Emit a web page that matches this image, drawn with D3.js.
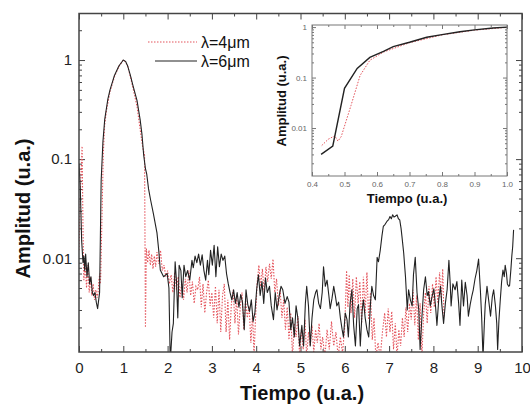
<!DOCTYPE html>
<html>
<head>
<meta charset="utf-8">
<script src="https://cdn.jsdelivr.net/npm/d3@7/dist/d3.min.js"></script>
<style>
  body { margin: 0; background: #fff; }
  svg { font-family: Arial, "Liberation Sans", sans-serif; }
  .axis line { stroke: #444; }
  .axis text { fill: #222; }
  .inset .axis line { stroke: #777; }
  .inset .axis text { fill: #666; }
</style>
</head>
<body>
<svg id="chart" width="530" height="405"></svg>
<script>
// ---- data ----
// lambda = 6um, black solid
const tiempo6 = [
  0, 0.03, 0.06, 0.09, 0.11, 0.13, 0.15, 0.18, 0.21, 0.24,
  0.27, 0.3, 0.33, 0.36, 0.39, 0.42, 0.465, 0.5, 0.54, 0.58,
  0.65, 0.7, 0.8, 0.9, 1.0, 1.05, 1.1, 1.16, 1.22, 1.31,
  1.38, 1.42, 1.46, 1.5, 1.53, 1.57, 1.62, 1.68, 1.76, 1.8,
  1.835, 1.91, 1.99, 2.03, 2.06, 2.1, 2.13, 2.17, 2.2, 2.23,
  2.26, 2.3, 2.33, 2.37, 2.41, 2.45, 2.5, 2.55, 2.58, 2.62,
  2.66, 2.7, 2.74, 2.78, 2.82, 2.86, 2.9, 2.93, 2.97, 3.01,
  3.05, 3.09, 3.13, 3.17, 3.21, 3.25, 3.29, 3.33, 3.37, 3.41,
  3.45, 3.49, 3.53, 3.57, 3.61, 3.65, 3.69, 3.73, 3.77, 3.81,
  3.85, 3.89, 3.93, 3.97, 4.01, 4.05, 4.09, 4.13, 4.17, 4.21,
  4.25, 4.3, 4.34, 4.39, 4.43, 4.47, 4.52, 4.56, 4.6, 4.65,
  4.7, 4.74, 4.78, 4.82, 4.86, 4.9, 4.94, 4.98, 5.03, 5.07,
  5.11, 5.14, 5.18, 5.22, 5.26, 5.3, 5.34, 5.37, 5.41, 5.45,
  5.49, 5.52, 5.56, 5.6, 5.64, 5.67, 5.71, 5.75, 5.79, 5.82,
  5.86, 5.9, 5.94, 5.97, 6.01, 6.05, 6.08, 6.12, 6.16, 6.2,
  6.24, 6.28, 6.31, 6.35, 6.39, 6.42, 6.46, 6.5, 6.54, 6.58,
  6.61, 6.65, 6.69, 6.73, 6.76, 6.8, 6.84, 6.87, 6.91, 6.95,
  6.99, 7.02, 7.05, 7.08, 7.11, 7.14, 7.18, 7.21, 7.24, 7.27,
  7.29, 7.33, 7.35, 7.37, 7.41, 7.44, 7.48, 7.52, 7.55, 7.59,
  7.63, 7.67, 7.7, 7.74, 7.78, 7.82, 7.86, 7.89, 7.93, 7.97,
  8.01, 8.05, 8.08, 8.12, 8.16, 8.19, 8.23, 8.27, 8.31, 8.35,
  8.38, 8.4, 8.44, 8.49, 8.53, 8.57, 8.6, 8.64, 8.68, 8.72,
  8.76, 8.79, 8.83, 8.87, 8.9, 8.94, 8.98, 9.02, 9.06, 9.09,
  9.12, 9.15, 9.17, 9.21, 9.25, 9.29, 9.33, 9.36, 9.4, 9.43,
  9.45, 9.48, 9.51, 9.54, 9.57, 9.6, 9.62, 9.65, 9.67, 9.7,
  9.72, 9.75, 9.77, 9.79, 9.81
];
const amp6 = [
  0.09, 0.05, 0.015, 0.009, 0.0105, 0.0075, 0.011, 0.0065, 0.009, 0.0055,
  0.0065, 0.0045, 0.0042, 0.0045, 0.0036, 0.0031, 0.0045, 0.06, 0.15, 0.25,
  0.4, 0.5, 0.7, 0.87, 1.0, 0.97, 0.87, 0.7, 0.55, 0.39,
  0.25, 0.18, 0.11, 0.08, 0.07, 0.05, 0.038, 0.028, 0.018, 0.012,
  0.0076, 0.0065, 0.007, 0.005, 0.0009, 0.0018, 0.0022, 0.0092, 0.006, 0.0025,
  0.0085, 0.0075, 0.004, 0.0085, 0.0065, 0.0075, 0.006, 0.0095, 0.008, 0.0105,
  0.009, 0.011, 0.0085, 0.0108, 0.0075, 0.006, 0.0095, 0.0068, 0.012, 0.0085,
  0.0135, 0.0065, 0.013, 0.0082, 0.011, 0.0095, 0.0105, 0.007, 0.0055, 0.0045,
  0.0038, 0.0048, 0.0035, 0.0045, 0.0032, 0.0043, 0.0036, 0.0019, 0.0048, 0.0034,
  0.0029, 0.0038, 0.0023, 0.0028, 0.0048, 0.0068, 0.0042, 0.0058, 0.0035, 0.0063,
  0.0045, 0.0052, 0.0033, 0.0024, 0.0045, 0.003, 0.0042, 0.0052, 0.0048, 0.0035,
  0.0041, 0.0036, 0.0019, 0.0025, 0.0016, 0.0033, 0.0025, 0.0013, 0.0021, 0.0013,
  0.0035, 0.0052, 0.0033, 0.0013, 0.0025, 0.0038, 0.0045, 0.0048, 0.0035, 0.0031,
  0.0045, 0.0082, 0.0052, 0.006, 0.0042, 0.0031, 0.0039, 0.0052, 0.0041, 0.0033,
  0.0036, 0.0025, 0.0019, 0.0016, 0.0028, 0.0024, 0.0016, 0.0035, 0.0048, 0.0021,
  0.0013, 0.0031, 0.0034, 0.0013, 0.0029, 0.0038, 0.0025, 0.0019, 0.0016, 0.0035,
  0.0052, 0.0042, 0.0038, 0.0102, 0.0092, 0.012, 0.017, 0.021, 0.022, 0.0235,
  0.0245, 0.0263, 0.025, 0.0274, 0.026, 0.0265, 0.0274, 0.025, 0.0244, 0.02,
  0.0166, 0.0112, 0.0085, 0.0065, 0.003, 0.0048, 0.0038, 0.0033, 0.0068, 0.0102,
  0.0045, 0.003, 0.0012, 0.0025, 0.0048, 0.0065, 0.0042, 0.0046, 0.0033, 0.0041,
  0.0049, 0.0032, 0.0021, 0.0038, 0.0052, 0.0034, 0.0022, 0.0035, 0.0048, 0.0095,
  0.0055, 0.0033, 0.0055, 0.0048, 0.0058, 0.0035, 0.0021, 0.006, 0.0033, 0.0057,
  0.0042, 0.0026, 0.0034, 0.0042, 0.0048, 0.0062, 0.0075, 0.0098, 0.0048, 0.0025,
  0.001, 0.0022, 0.0034, 0.0052, 0.0037, 0.0026, 0.0041, 0.0048, 0.0033, 0.0022,
  0.0012, 0.0024, 0.0038, 0.0058, 0.0076, 0.0065, 0.0085, 0.007, 0.0055, 0.0052,
  0.0053, 0.0078, 0.0105, 0.0131, 0.0193
];

// lambda = 4um, red dotted
const tiempo4 = [
  0, 0.04, 0.07, 0.09, 0.11, 0.14, 0.17, 0.2, 0.23, 0.26,
  0.29, 0.32, 0.35, 0.38, 0.41, 0.43, 0.45, 0.47, 0.48, 0.49,
  0.52, 0.548, 0.578, 0.62, 0.7, 0.8, 0.9, 1.0, 1.05, 1.1,
  1.16, 1.22, 1.31, 1.38, 1.44, 1.48, 1.5, 1.52, 1.55, 1.58,
  1.61, 1.64, 1.67, 1.7, 1.73, 1.76, 1.8, 1.84, 1.88, 1.92,
  1.96, 2.0, 2.04, 2.08, 2.12, 2.16, 2.2, 2.24, 2.28, 2.32,
  2.36, 2.4, 2.44, 2.48, 2.52, 2.56, 2.6, 2.64, 2.68, 2.72,
  2.76, 2.8, 2.84, 2.88, 2.92, 2.96, 3.0, 3.04, 3.08, 3.12,
  3.16, 3.2, 3.24, 3.28, 3.32, 3.36, 3.4, 3.44, 3.48, 3.52,
  3.56, 3.6, 3.64, 3.68, 3.72, 3.76, 3.8, 3.84, 3.88, 3.92,
  3.95, 3.98, 4.02, 4.06, 4.1, 4.14, 4.18, 4.22, 4.26, 4.3,
  4.34, 4.38, 4.42, 4.46, 4.5, 4.54, 4.58, 4.62, 4.66, 4.7,
  4.74, 4.78, 4.82, 4.86, 4.9, 4.94, 4.98, 5.02, 5.06, 5.1,
  5.14, 5.18, 5.22, 5.26, 5.3, 5.34, 5.38, 5.42, 5.46, 5.5,
  5.55, 5.6, 5.65, 5.7, 5.75, 5.8, 5.85, 5.9, 5.95, 6.0,
  6.04, 6.07, 6.1, 6.14, 6.18, 6.22, 6.26, 6.3, 6.34, 6.38,
  6.42, 6.46, 6.5, 6.54, 6.58, 6.62, 6.66, 6.7, 6.75, 6.8,
  6.85, 6.9, 6.94, 6.98, 7.02, 7.06, 7.1, 7.14, 7.18, 7.22,
  7.26, 7.3, 7.34, 7.38, 7.42, 7.46, 7.5, 7.54, 7.58, 7.62,
  7.66, 7.7, 7.74, 7.78, 7.82, 7.86, 7.9, 7.94, 7.98, 8.02,
  8.06, 8.1, 8.14, 8.18, 8.21, 8.24
];
const amp4 = [
  0.012, 0.06, 0.135, 0.02, 0.006, 0.009, 0.005, 0.0085, 0.0045, 0.0065,
  0.0042, 0.0055, 0.0038, 0.0048, 0.004, 0.0045, 0.006, 0.007, 0.0055, 0.0065,
  0.028, 0.11, 0.22, 0.31, 0.48, 0.68, 0.86, 1.0, 0.96, 0.86,
  0.68, 0.52, 0.34, 0.2, 0.13, 0.11, 0.002, 0.0125, 0.009, 0.012,
  0.0085, 0.011, 0.0078, 0.0105, 0.0082, 0.0115, 0.0088, 0.012, 0.0075, 0.0085,
  0.0065, 0.0075, 0.0055, 0.0068, 0.0045, 0.0072, 0.0048, 0.0065, 0.004, 0.0058,
  0.0038, 0.0062, 0.0045, 0.0075, 0.0042, 0.0058, 0.0035, 0.0052, 0.0048, 0.0065,
  0.0032, 0.0055, 0.0028, 0.0045, 0.006, 0.0033, 0.0045, 0.0025, 0.0052, 0.0022,
  0.0048, 0.0018, 0.0042, 0.0055, 0.0018, 0.0038, 0.0015, 0.0035, 0.0048, 0.0022,
  0.004, 0.0017, 0.0032, 0.0045, 0.0019, 0.0038, 0.0025, 0.0033, 0.0014, 0.0028,
  0.001, 0.0022, 0.0055, 0.0085, 0.0052, 0.0078, 0.0045, 0.0082, 0.0058, 0.0088,
  0.0062, 0.0098, 0.0045, 0.0062, 0.0033, 0.0048, 0.0025, 0.0038, 0.0019, 0.0032,
  0.0015, 0.0028, 0.001, 0.0022, 0.0016, 0.0026, 0.001, 0.0019, 0.0012, 0.0024,
  0.001, 0.0018, 0.0013, 0.0021, 0.0011, 0.0019, 0.0014, 0.0022, 0.0012, 0.0016,
  0.001, 0.0019, 0.0012, 0.0023, 0.0013, 0.0018, 0.001, 0.0016, 0.0011, 0.0021,
  0.0075, 0.0032, 0.0068, 0.0028, 0.0062, 0.0025, 0.0065, 0.0035, 0.0058, 0.0022,
  0.0065, 0.0028, 0.0072, 0.0024, 0.0045, 0.0015, 0.0025, 0.001, 0.0014, 0.001,
  0.0018, 0.0028, 0.0016, 0.0031, 0.0018, 0.0029, 0.0012, 0.0022, 0.001, 0.0019,
  0.0013, 0.0025, 0.0016, 0.0032, 0.0018, 0.0035, 0.0024, 0.0048, 0.0021, 0.0042,
  0.0015, 0.0035, 0.001, 0.0028, 0.0045, 0.0022, 0.0052, 0.0028, 0.0055, 0.0032,
  0.0065, 0.0035, 0.0072, 0.0038, 0.0078, 0.0025
];

// inset: zoom on the rising edge
const insetTiempo6 = [0.428, 0.464, 0.5, 0.539, 0.578, 0.62, 0.65, 0.7, 0.753, 0.8, 0.855, 0.9, 0.957, 1.0];
const insetAmp6    = [0.003, 0.0044, 0.061, 0.152, 0.25, 0.33, 0.41, 0.5, 0.63, 0.71, 0.81, 0.88, 0.96, 1.0];
const insetTiempo4 = [0.43, 0.45, 0.47, 0.48, 0.49, 0.52, 0.548, 0.578, 0.62, 0.7, 0.8, 0.9, 1.0];
const insetAmp4    = [0.0045, 0.006, 0.007, 0.0055, 0.0068, 0.028, 0.11, 0.22, 0.32, 0.49, 0.7, 0.87, 0.99];

// ticks and labels
const xTicks = [0, 1, 2, 3, 4, 5, 6, 7, 8, 9, 10];
const xMinorTicks = [0.5, 1.5, 2.5, 3.5, 4.5, 5.5, 6.5, 7.5, 8.5, 9.5];
const yTicks = [0.01, 0.1, 1];
const yTickLabels = ["0.01", "0.1", "1"];
const insetXTicks = [0.4, 0.5, 0.6, 0.7, 0.8, 0.9, 1.0];
const insetXMinor = [0.45, 0.55, 0.65, 0.75, 0.85, 0.95];
const legendLabels = ["\u03bb=4\u03bcm", "\u03bb=6\u03bcm"];
const xTitle = "Tiempo (u.a.)";
const yTitle = "Amplitud (u.a.)";

function drawChart(){
  // set the dimensions and margins of the graph
  var margin = {top: 13.5, right: 8, bottom: 53, left: 79},
      width = 530 - margin.left - margin.right,
      height = 405 - margin.top - margin.bottom;

  var root = d3.select("#chart");
  var svg = root.append("g")
      .attr("transform", "translate(" + margin.left + "," + margin.top + ")");

  var x = d3.scaleLinear().domain([0, 10]).range([0, width]);
  var y = d3.scaleLog().domain([0.00113, 2.95]).range([height, 0]);

  // log minor ticks (2..9 of each decade)
  var yMinor = y.ticks().filter(function(d){ return yTicks.indexOf(d) < 0; });

  // axes with inward ticks
  svg.append("g").attr("class", "axis x")
    .attr("transform", "translate(0," + height + ")")
    .call(d3.axisBottom(x).tickValues(xTicks).tickSize(-6).tickPadding(10).tickFormat(d3.format("d")))
    .call(g => g.select(".domain").remove())
    .selectAll("text").style("font-size", "15px");
  svg.append("g").attr("class", "axis")
    .attr("transform", "translate(0," + height + ")")
    .call(d3.axisBottom(x).tickValues(xMinorTicks).tickSize(-3).tickFormat(""))
    .call(g => g.select(".domain").remove());
  svg.append("g").attr("class", "axis")
    .call(d3.axisTop(x).tickValues(xTicks).tickSize(-6).tickFormat(""))
    .call(g => g.select(".domain").remove());
  svg.append("g").attr("class", "axis")
    .call(d3.axisTop(x).tickValues(xMinorTicks).tickSize(-3).tickFormat(""))
    .call(g => g.select(".domain").remove());

  svg.append("g").attr("class", "axis y")
    .call(d3.axisLeft(y).tickValues(yTicks).tickSize(-6).tickPadding(7)
      .tickFormat(function(d, i){ return yTickLabels[i]; }))
    .call(g => g.select(".domain").remove())
    .selectAll("text").style("font-size", "15px");
  svg.append("g").attr("class", "axis")
    .call(d3.axisLeft(y).tickValues(yMinor).tickSize(-3).tickFormat(""))
    .call(g => g.select(".domain").remove());
  svg.append("g").attr("class", "axis")
    .attr("transform", "translate(" + width + ",0)")
    .call(d3.axisRight(y).tickValues(yTicks).tickSize(-6).tickFormat(""))
    .call(g => g.select(".domain").remove());
  svg.append("g").attr("class", "axis")
    .attr("transform", "translate(" + width + ",0)")
    .call(d3.axisRight(y).tickValues(yMinor).tickSize(-3).tickFormat(""))
    .call(g => g.select(".domain").remove());

  // clip the curves to the frame
  root.append("defs").append("clipPath").attr("id", "clipMain")
    .append("rect").attr("width", width).attr("height", height);

  var line = d3.line()
    .x(function(d){ return x(d[0]); })
    .y(function(d){ return y(d[1]); });

  var plot = svg.append("g").attr("clip-path", "url(#clipMain)");
  plot.append("path")
    .datum(d3.zip(tiempo4, amp4))
    .attr("fill", "none")
    .attr("stroke", "#e4545c")
    .attr("stroke-width", 1.1)
    .attr("stroke-dasharray", "1.5,1.5")
    .attr("d", line);
  plot.append("path")
    .datum(d3.zip(tiempo6, amp6))
    .attr("fill", "none")
    .attr("stroke", "#222")
    .attr("stroke-width", 1.1)
    .attr("stroke-linejoin", "round")
    .attr("d", line);

  // frame
  svg.append("rect")
    .attr("width", width).attr("height", height)
    .attr("fill", "none").attr("stroke", "#444").attr("stroke-width", 1.5);

  // axis titles
  svg.append("text")
    .text(xTitle)
    .attr("x", 223).attr("y", height + 48)
    .style("text-anchor", "middle")
    .style("font-size", "20px").style("font-weight", "bold").style("fill", "#111");
  svg.append("text")
    .text(yTitle)
    .attr("transform", "translate(-49," + 195 + ") rotate(-90)")
    .style("text-anchor", "middle")
    .style("font-size", "20px").style("font-weight", "bold").style("fill", "#111");

  // legend
  var legend = svg.append("g").attr("transform", "translate(69,28.5)");
  var legendStyle = [
    {stroke: "#e4545c", dash: "1.5,1.5", x1: 0},
    {stroke: "#222", dash: null, x1: 7}
  ];
  legendLabels.forEach(function(lab, i){
    var row = legend.append("g").attr("transform", "translate(0," + (i * 19) + ")");
    row.append("line")
      .attr("x1", legendStyle[i].x1).attr("x2", 49)
      .attr("y1", 0).attr("y2", 0)
      .attr("stroke", legendStyle[i].stroke)
      .attr("stroke-width", 1.1)
      .attr("stroke-dasharray", legendStyle[i].dash);
    row.append("text")
      .text(lab)
      .attr("x", 53).attr("y", 0).attr("dy", "0.35em")
      .style("font-size", "16px").style("fill", "#111");
  });

  // ---- inset ----
  var ins = {left: 312, top: 25, width: 195, height: 151};
  var inset = root.append("g").attr("class", "inset")
    .attr("transform", "translate(" + ins.left + "," + ins.top + ")");
  var xi = d3.scaleLinear().domain([0.4, 1.0]).range([0, ins.width]);
  var yi = d3.scaleLog().domain([0.00112, 1.1]).range([ins.height, 0]);
  var yiMinor = yi.ticks().filter(function(d){ return yTicks.indexOf(d) < 0; });

  inset.append("rect").attr("width", ins.width).attr("height", ins.height).attr("fill", "#fff");

  inset.append("g").attr("class", "axis")
    .attr("transform", "translate(0," + ins.height + ")")
    .call(d3.axisBottom(xi).tickValues(insetXTicks).tickSize(-4).tickPadding(5).tickFormat(d3.format(".1f")))
    .call(g => g.select(".domain").remove())
    .selectAll("text").style("font-size", "8px");
  inset.append("g").attr("class", "axis")
    .attr("transform", "translate(0," + ins.height + ")")
    .call(d3.axisBottom(xi).tickValues(insetXMinor).tickSize(-2).tickFormat(""))
    .call(g => g.select(".domain").remove());
  inset.append("g").attr("class", "axis")
    .call(d3.axisTop(xi).tickValues(insetXTicks).tickSize(-4).tickFormat(""))
    .call(g => g.select(".domain").remove());
  inset.append("g").attr("class", "axis")
    .call(d3.axisTop(xi).tickValues(insetXMinor).tickSize(-2).tickFormat(""))
    .call(g => g.select(".domain").remove());
  inset.append("g").attr("class", "axis")
    .call(d3.axisLeft(yi).tickValues(yTicks).tickSize(-4).tickPadding(5)
      .tickFormat(function(d, i){ return yTickLabels[i]; }))
    .call(g => g.select(".domain").remove())
    .selectAll("text").style("font-size", "8px");
  inset.append("g").attr("class", "axis")
    .call(d3.axisLeft(yi).tickValues(yiMinor).tickSize(-2).tickFormat(""))
    .call(g => g.select(".domain").remove());
  inset.append("g").attr("class", "axis")
    .attr("transform", "translate(" + ins.width + ",0)")
    .call(d3.axisRight(yi).tickValues(yTicks).tickSize(-4).tickFormat(""))
    .call(g => g.select(".domain").remove());
  inset.append("g").attr("class", "axis")
    .attr("transform", "translate(" + ins.width + ",0)")
    .call(d3.axisRight(yi).tickValues(yiMinor).tickSize(-2).tickFormat(""))
    .call(g => g.select(".domain").remove());

  var lineI = d3.line()
    .x(function(d){ return xi(d[0]); })
    .y(function(d){ return yi(d[1]); });
  inset.append("path")
    .datum(d3.zip(insetTiempo4, insetAmp4))
    .attr("fill", "none").attr("stroke", "#e4545c").attr("stroke-width", 1)
    .attr("stroke-dasharray", "1.5,1.5")
    .attr("d", lineI);
  inset.append("path")
    .datum(d3.zip(insetTiempo6, insetAmp6))
    .attr("fill", "none").attr("stroke", "#222").attr("stroke-width", 1.4)
    .attr("d", lineI);

  inset.append("rect").attr("width", ins.width).attr("height", ins.height)
    .attr("fill", "none").attr("stroke", "#777").attr("stroke-width", 1);

  inset.append("text")
    .text(xTitle)
    .attr("x", 95).attr("y", ins.height + 27)
    .style("text-anchor", "middle")
    .style("font-size", "13px").style("font-weight", "bold").style("fill", "#111");
  inset.append("text")
    .text(yTitle)
    .attr("transform", "translate(-26," + 76 + ") rotate(-90)")
    .style("text-anchor", "middle")
    .style("font-size", "13px").style("font-weight", "bold").style("fill", "#111");
}

drawChart();
</script>
</body>
</html>
